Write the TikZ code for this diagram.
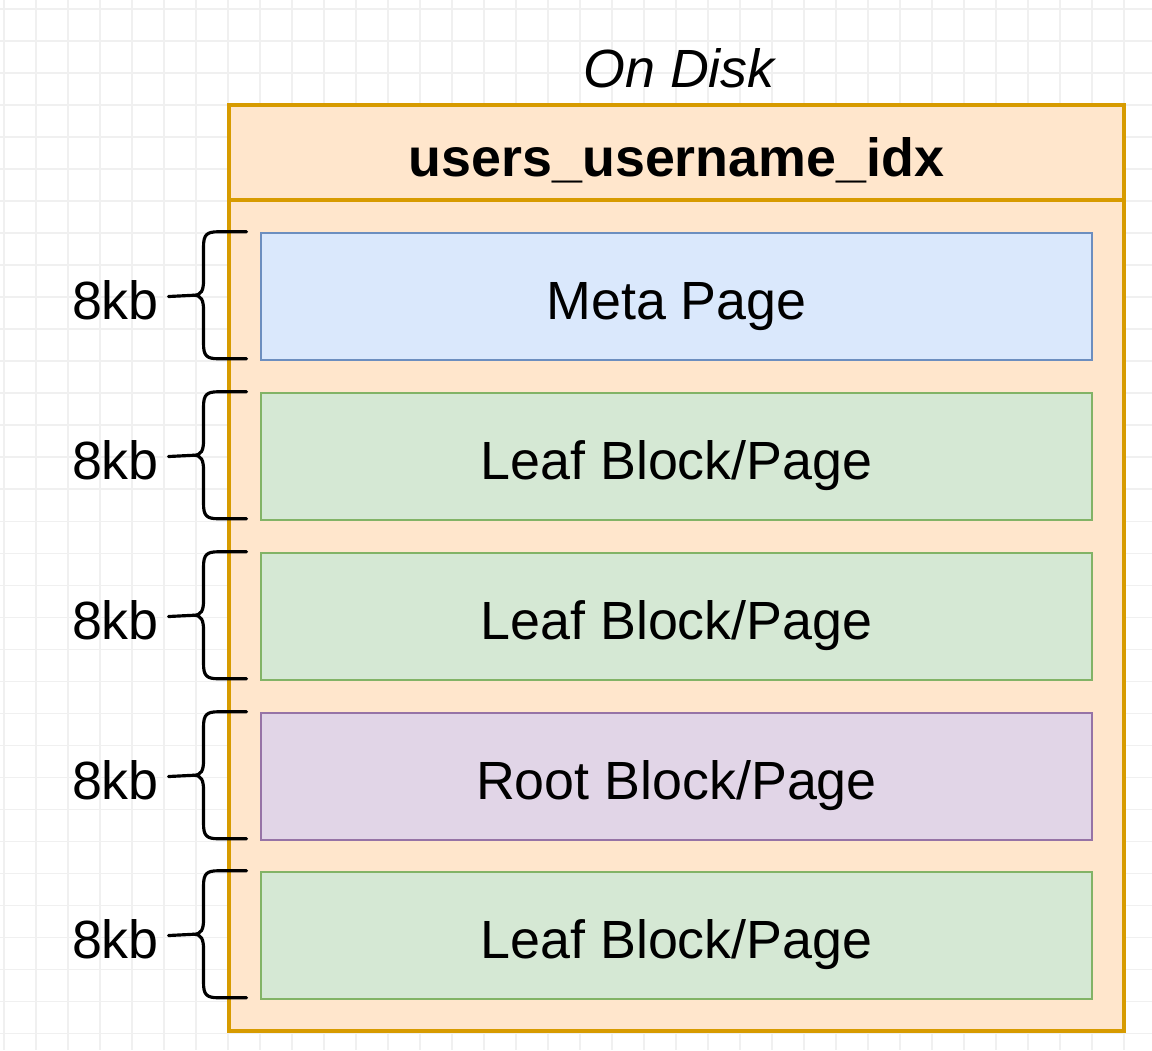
\documentclass[tikz,border=0pt]{standalone}
\usepackage{fontspec}
\setmainfont{Liberation Sans}
\usetikzlibrary{positioning}
\definecolor{diskfill}{HTML}{FFE6CC}
\definecolor{diskline}{HTML}{D79B00}
\definecolor{metafill}{HTML}{DAE8FC}
\definecolor{metaline}{HTML}{6C8EBF}
\definecolor{leaffill}{HTML}{D5E8D4}
\definecolor{leafline}{HTML}{82B366}
\definecolor{rootfill}{HTML}{E1D5E7}
\definecolor{rootline}{HTML}{9673A6}
\definecolor{gridgray}{HTML}{F0F0F0}
\tikzset{
    every node/.style={font=\fontsize{15.3}{18}\selectfont, text height=13.2pt, text depth=0pt},
    page/.style={rectangle, line width=0.7pt, minimum width=8.31cm, minimum height=1.27cm, inner sep=0pt},
    gridline/.style={gridgray, line width=0.3pt},
    brace/.style={line width=0.9pt, line cap=round}
}
\begin{document}
\begin{tikzpicture}[x=0.01cm, y=-0.01cm]
    \useasboundingbox (0,0) rectangle (1152,1050);
    \fill[white] (0,0) rectangle (1152,1050);
    % background grid
    \foreach \gx in {0,...,35} \draw[gridline] (4+32*\gx,0) -- (4+32*\gx,1050);
    \foreach \gy in {0,...,32} \draw[gridline] (0,9+32*\gy) -- (1152,9+32*\gy);
    % the index file
    \draw[diskline, fill=diskfill, line width=0.9pt] (229,105) rectangle (1124,1031);
    \draw[diskline, line width=0.9pt] (229,200) -- (1124,200);
    \node (title) at (676.5,153) {\bfseries users\_username\_idx};
    \node (disk) at (679,64) {\itshape On Disk};
    % pages
    \node[page, fill=metafill, draw=metaline] (meta) at (676.5,296.5) {Meta Page};
    \node[page, fill=leaffill, draw=leafline] (leafa) at (676.5,456.5) {Leaf Block/Page};
    \node[page, fill=leaffill, draw=leafline] (leafb) at (676.5,616.5) {Leaf Block/Page};
    \node[page, fill=rootfill, draw=rootline] (root) at (676.5,776.5) {Root Block/Page};
    \node[page, fill=leaffill, draw=leafline] (leafc) at (676.5,935.5) {Leaf Block/Page};
    % braces with sizes
    \foreach \b in {meta,leafa,leafb,root,leafc} {
        \draw[brace] ([shift={(-13,0)}]\b.north west) -- ++(-28,0)
            .. controls +(-12,0) and +(0,-12) .. ++(-15,15) -- ++(0,33.5)
            .. controls +(0,10) and +(8,0) .. ++(-10,15) coordinate (tip\b)
            .. controls +(8,0) and +(0,-10) .. ++(10,15) -- ++(0,33.5)
            .. controls +(0,12) and +(-12,0) .. ++(15,15) -- ++(28,0);
        \node[anchor=east, inner sep=0pt] (size\b) at ([shift={(-100,0)}]\b.west) {8kb};
        \draw[brace] ([shift={(9,0)}]size\b.east) -- (tip\b);
    }
\end{tikzpicture}
\end{document}
